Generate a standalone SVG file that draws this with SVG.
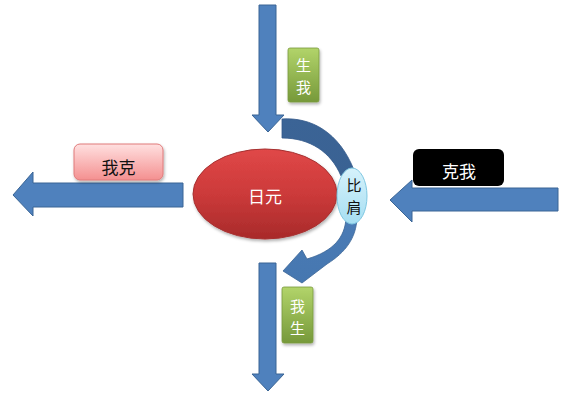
<svg xmlns="http://www.w3.org/2000/svg" width="564" height="402" viewBox="0 0 564 402">
<defs>
<linearGradient id="gRed" x1="0" y1="0" x2="0" y2="1"><stop offset="0" stop-color="#e04848"/><stop offset="0.5" stop-color="#cc3a3a"/><stop offset="1" stop-color="#a82a2a"/></linearGradient>
<linearGradient id="gCyan" x1="0" y1="0" x2="0" y2="1"><stop offset="0" stop-color="#d6f2fb"/><stop offset="1" stop-color="#a6def2"/></linearGradient>
<linearGradient id="gGreen" x1="0" y1="0" x2="0" y2="1"><stop offset="0" stop-color="#b2d46a"/><stop offset="1" stop-color="#76993a"/></linearGradient>
<linearGradient id="gPink" x1="0" y1="0" x2="0" y2="1"><stop offset="0" stop-color="#ffe0e0"/><stop offset="1" stop-color="#f49090"/></linearGradient>
<linearGradient id="gArc1" x1="0" y1="0" x2="1" y2="1"><stop offset="0" stop-color="#3b6496"/><stop offset="1" stop-color="#3a6293"/></linearGradient>
<linearGradient id="gArc2" x1="0" y1="0" x2="0" y2="1"><stop offset="0" stop-color="#4a7bb5"/><stop offset="1" stop-color="#4677b0"/></linearGradient>
<filter id="sh" x="-20%" y="-20%" width="150%" height="150%"><feDropShadow dx="1" dy="2" stdDeviation="1.5" flood-color="#000" flood-opacity="0.3"/></filter>
</defs>
<style>
.arrow{fill:#4f81bd;stroke:#3a6595;stroke-width:1}
.t{font-family:"Noto Sans CJK SC","Noto Sans",sans-serif;font-size:17px;text-anchor:middle}
.v{font-size:15px}
.w{fill:#ffffff}
.d{fill:#111111}
</style>
<g id="connectors">
<path class="arrow" d="M259,5 H276 V115 H284 L268,132 L252,115 H259 Z"/>
<path class="arrow" d="M259,263 H276 V374 H284 L268,391 L252,374 H259 Z"/>
<path class="arrow" d="M183,183 V207 H33 V216 L13,195 L33,172 V183 Z"/>
<path class="arrow" d="M558,188 V211 H412 V222 L390,200 L412,180 V188 Z"/>
<path d="M282,119 C311,117 339,132 354,170 L341,176 C331,152 310,138 282,138 Z" fill="url(#gArc1)" stroke="#33598a" stroke-width="0.8"/>
<path d="M346,218 C345,237 334,251 307,259 L302,250 L283,271 L302,283 L327,264 C346,252 356,238 357,218 Z" fill="url(#gArc2)" stroke="#3a6595" stroke-width="0.8"/>
</g>
<g id="riyuan">
<ellipse cx="265" cy="194" rx="72" ry="45" fill="url(#gRed)" stroke="#a63030" stroke-width="1" filter="url(#sh)"/>
<text class="t w" x="265" y="203">日元</text>
</g>
<g id="bijian">
<ellipse cx="352" cy="196" rx="15" ry="28" fill="url(#gCyan)" stroke="#80c8e2" stroke-width="1"/>
<text class="t v d" x="354" y="191">比</text>
<text class="t v d" x="354" y="213">肩</text>
</g>
<g id="shengwo">
<rect x="288" y="48" width="31" height="54" rx="2" fill="url(#gGreen)" stroke="#7a9a3c" stroke-width="0.8" filter="url(#sh)"/>
<text class="t v w" x="303.5" y="71">生</text>
<text class="t v w" x="303.5" y="93">我</text>
</g>
<g id="wosheng">
<rect x="282" y="287" width="31" height="56" rx="2" fill="url(#gGreen)" stroke="#7a9a3c" stroke-width="0.8" filter="url(#sh)"/>
<text class="t v w" x="297.5" y="312">我</text>
<text class="t v w" x="297.5" y="334">生</text>
</g>
<g id="woke">
<rect x="74" y="144" width="89" height="36" rx="6" fill="url(#gPink)" stroke="#e07a7a" stroke-width="1" filter="url(#sh)"/>
<text class="t d" x="118.5" y="174">我克</text>
</g>
<g id="kewo">
<rect x="413" y="149" width="91" height="37" rx="6" fill="#000000"/>
<text class="t w" x="459" y="178">克我</text>
</g>
</svg>
